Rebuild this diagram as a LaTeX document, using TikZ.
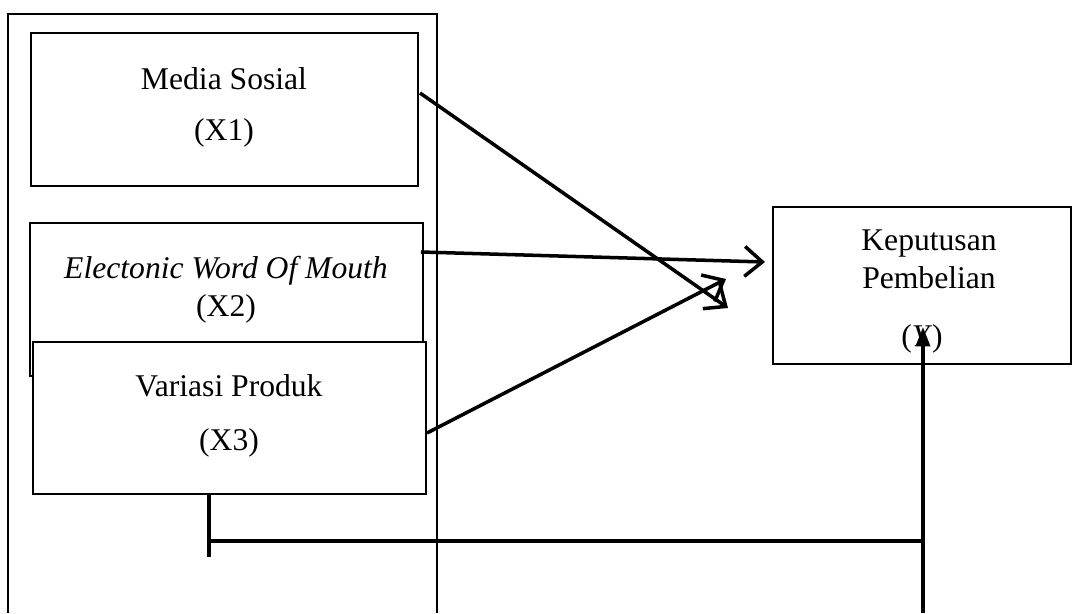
\documentclass[tikz,border=0pt]{standalone}
\usepackage{fontspec}
\setmainfont{Liberation Serif}
\usetikzlibrary{arrows.meta}
\begin{document}
\begin{tikzpicture}[x=0.02cm,y=-0.02cm,
  box/.style={draw,line width=1.4pt,fill=white},
  lbl/.style={font=\fontsize{18}{21}\selectfont,inner sep=0pt,anchor=center},
  conn/.style={line width=2pt},
  vhead/.style={conn,-{Straight Barb[length=10pt,width=17pt,line width=2pt]}},
  fhead/.style={conn,-{Triangle[length=11pt,width=8pt]}}]
\useasboundingbox (0,0) rectangle (1072,613);
% outer frame (open at bottom)
\draw[line width=1.4pt] (8,613) -- (8,14) -- (437,14) -- (437,613);
% boxes
\draw[box] (31,33) rectangle (418,186);
\draw[box] (30,223) rectangle (423,376);
\draw[box] (33,342) rectangle (426,494);
\draw[box] (773,207) rectangle (1071,364);
% texts
\node[lbl] (t1a) at (224,79) {Media Sosial};
\node[lbl] (t1b) at (224,133) {(X1)};
\node[lbl] (t2a) at (226,271) {\itshape Electonic Word Of Mouth};
\node[lbl] (t2b) at (226,309) {(X2)};
\node[lbl] (t3a) at (229,386) {Variasi Produk};
\node[lbl] (t3b) at (229,443) {(X3)};
\node[lbl] (ya) at (929,244) {Keputusan};
\node[lbl] (yb) at (929,278) {Pembelian};
\node[lbl] (yc) at (922,339) {(\textit{Y})};
% connector points
\coordinate (s1) at (420,93);
\coordinate (e1) at (728,308);
\coordinate (s2) at (421,252);
\coordinate (e2) at (765,262);
\coordinate (s3) at (427,433);
\coordinate (e3) at (726,279);
\coordinate (v1) at (209,494);
\coordinate (v2) at (209,557);
\coordinate (h1) at (209,541);
\coordinate (h2) at (923,541);
\coordinate (ub) at (923,613);
\coordinate (ut) at (923,327);
\draw[vhead] (s1) -- (e1);
\draw[vhead] (s2) -- (e2);
\draw[vhead] (s3) -- (e3);
\draw[conn] (v1) -- (v2);
\draw[conn] (h1) -- (h2);
\draw[fhead] (ub) -- (ut);
\end{tikzpicture}
\end{document}
